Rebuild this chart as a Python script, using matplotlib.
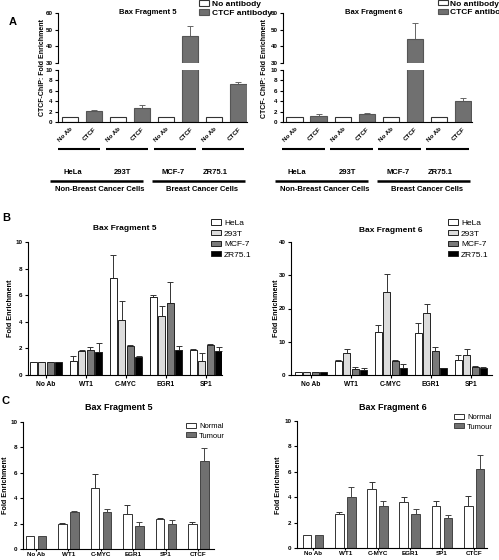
import numpy as np
import matplotlib
matplotlib.use("Agg")
import matplotlib.pyplot as plt
from matplotlib import transforms

plt.rcParams["font.family"] = ["Liberation Sans", "DejaVu Sans"]
plt.rcParams["font.weight"] = "bold"
plt.rcParams["axes.linewidth"] = 0.8

# ---- data ----
cell_lines = ["HeLa", "293T", "MCF-7", "ZR75.1"]
a_ticks = ["No Ab", "CTCF"]
a5_noab = [1.0, 1.0, 1.0, 1.0]
a5_ctcf = [2.1, 2.6, 46.0, 7.3]
a5_ctcf_err = [0.15, 0.6, 6.0, 0.3]
a6_noab = [1.0, 1.0, 1.0, 1.0]
a6_ctcf = [1.2, 1.45, 44.5, 4.1]
a6_ctcf_err = [0.25, 0.25, 9.5, 0.5]
cancer_types = ["Non-Breast Cancer Cells", "Breast Cancer Cells"]

b_groups = ["No Ab", "WT1", "C-MYC", "EGR1", "SP1"]
b5_hela = [1.0, 1.06, 7.27, 5.9, 1.9]
b5_hela_err = [0, 0.38, 1.72, 0.15, 0.05]
b5_293t = [1.0, 1.82, 4.13, 4.43, 1.04]
b5_293t_err = [0, 0.04, 1.44, 0.77, 0.58]
b5_mcf7 = [1.0, 1.9, 2.15, 5.44, 2.28]
b5_mcf7_err = [0, 0.2, 0.1, 1.56, 0.05]
b5_zr = [1.0, 1.7, 1.32, 1.87, 1.82]
b5_zr_err = [0, 0.7, 0.1, 0.33, 0.28]

b6_hela = [1.0, 4.25, 13.06, 12.56, 4.45]
b6_hela_err = [0, 0.3, 1.84, 3.14, 1.55]
b6_293t = [1.0, 6.7, 24.9, 18.7, 6.1]
b6_293t_err = [0, 1.1, 5.4, 2.8, 1.7]
b6_mcf7 = [1.0, 1.9, 4.25, 7.1, 2.4]
b6_mcf7_err = [0, 0.6, 0.2, 1.3, 0.2]
b6_zr = [1.0, 1.5, 2.2, 2.0, 2.2]
b6_zr_err = [0, 0.5, 1.0, 0.2, 0.1]

c_groups = ["No Ab", "WT1", "C-MYC", "EGR1", "SP1", "CTCF"]
c_series = ["Normal", "Tumour"]
c5_normal = [1.0, 2.0, 4.83, 2.79, 2.35, 1.93]
c5_normal_err = [0, 0.06, 1.1, 0.68, 0.1, 0.21]
c5_tumour = [1.0, 2.92, 2.92, 1.78, 1.96, 6.92]
c5_tumour_err = [0, 0.06, 0.21, 0.31, 0.29, 1.04]
c6_normal = [1.0, 2.71, 4.66, 3.65, 3.31, 3.31]
c6_normal_err = [0, 0.15, 0.55, 0.39, 0.41, 0.8]
c6_tumour = [1.0, 4.04, 3.33, 2.66, 2.4, 6.2]
c6_tumour_err = [0, 0.78, 0.37, 0.44, 0.23, 1.1]

W, H = 499, 560
fig = plt.figure(figsize=(W / 100, H / 100), dpi=100)


def px_axes(x0, y0, x1, y1):
    return fig.add_axes([x0 / W, 1 - y1 / H, (x1 - x0) / W, (y1 - y0) / H])


def style(ax):
    ax.spines["top"].set_visible(False)
    ax.spines["right"].set_visible(False)
    ax.tick_params(direction="out", length=2.5, width=0.8, labelsize=4.5, pad=1.5)


def up_err(ax, x, y, err, color="k"):
    x, y, err = np.asarray(x), np.asarray(y), np.asarray(err)
    m = err > 0
    ax.errorbar(x[m], y[m], yerr=[np.zeros(m.sum()), err[m]], fmt="none",
                ecolor=color, elinewidth=0.7, capsize=2, capthick=0.7, zorder=1)


def fpx(x, y):
    return x / W, 1 - y / H


# ---- panel A ----
def panel_a(x0, x1, noab, ctcf, err, title, tpos, ylab, ylab_x, xlim):
    up = px_axes(x0, 13, x1, 63)
    lo = px_axes(x0, 70, x1, 122)
    xs = np.arange(8)
    for ax in (up, lo):
        style(ax)
        b1 = ax.bar(xs[0::2], noab, 0.68, color="white", edgecolor="#333", lw=0.8, zorder=2)
        b2 = ax.bar(xs[1::2], ctcf, 0.68, color="#707070", edgecolor="#555", lw=0.8, zorder=2)
        up_err(ax, xs[1::2], ctcf, err, color="#666")
        ax.set_xlim(*xlim)
    up.set_ylim(30, 60)
    up.set_yticks([30, 40, 50, 60])
    up.spines["bottom"].set_visible(False)
    up.set_xticks([])
    lo.set_ylim(0, 10)
    lo.set_yticks([0, 2, 4, 6, 8, 10])
    lo.set_xticks(xs)
    lo.tick_params(axis="x", length=0, pad=3)
    lo.set_xticklabels(a_ticks * 4, rotation=45, ha="right", va="top",
                       rotation_mode="anchor", fontsize=4.5)
    fig.text(*fpx(*tpos), title, ha="center", va="center", fontsize=5.5)
    fig.text(*fpx(ylab_x, 68), ylab, rotation=90, ha="center", va="center", fontsize=5)
    tr = transforms.blended_transform_factory(lo.transData, fig.transFigure)
    for i in range(4):
        lo.plot([2 * i - 0.52, 2 * i + 1.25], [1 - 149 / H] * 2, color="k", lw=1.5,
                transform=tr, clip_on=False, solid_capstyle="butt")
    for name, cx in zip(cell_lines, [0.1, 2.2, 4.3, 6.05]):
        lo.text(cx, 1 - 173 / H, name, transform=tr, ha="center", va="center", fontsize=5.5)
    for (a, b) in [(-0.83, 3.04), (3.42, 7.27)]:
        lo.plot([a, b], [1 - 181 / H] * 2, color="k", lw=1.8, transform=tr,
                clip_on=False, solid_capstyle="butt")
    for name, cx in zip(cancer_types, [1.25, 5.5]):
        lo.text(cx, 1 - 189.5 / H, name, transform=tr, ha="center", va="center", fontsize=5.5)
    return b1, b2


h = panel_a(58, 247, a5_noab, a5_ctcf, a5_ctcf_err, "Bax Fragment 5", (148, 13),
            "CTCF-ChIP: Fold Enrichment", 42, (-0.5, 7.36))
fig.legend(h, ["No antibody", "CTCF antibody"], loc="upper left", bbox_to_anchor=fpx(199, 0.5),
           frameon=False, fontsize=6, handlelength=1.2, handleheight=0.6, handletextpad=0.3,
           labelspacing=0.15, borderpad=0, borderaxespad=0)
h = panel_a(283, 472, a6_noab, a6_ctcf, a6_ctcf_err, "Bax Fragment 6", (374, 12),
            "CTCF- ChIP: Fold Enrichment", 265, (-0.48, 7.37))
fig.legend(h, ["No antibody", "CTCF antibody"], loc="upper left", bbox_to_anchor=fpx(438, 0),
           frameon=False, fontsize=6, handlelength=1.2, handleheight=0.6, handletextpad=0.3,
           labelspacing=0.15, borderpad=0, borderaxespad=0)


# ---- panel B ----
b_colors = ["white", "#dcdcdc", "#7a7a7a", "black"]


def panel_b(rect, series, errs, ymax, yticks, xlim, title, tpos, ylab_x, leg_x):
    ax = px_axes(*rect)
    style(ax)
    xs = np.arange(len(b_groups))
    handles = []
    for i, (vals, err, col) in enumerate(zip(series, errs, b_colors)):
        off = (i - 1.5) * 0.21
        bh = ax.bar(xs + off, vals, 0.175, color=col, edgecolor="#222", lw=0.7, zorder=2)
        up_err(ax, xs + off, vals, err, color="#333")
        handles.append(bh)
    ax.set_ylim(0, ymax)
    ax.set_yticks(yticks)
    ax.set_xlim(*xlim)
    ax.set_xticks(xs)
    ax.set_xticklabels(b_groups, fontsize=4.8)
    ax.tick_params(axis="x", length=2, pad=2)
    fig.text(*fpx(*tpos), title, ha="center", va="center", fontsize=6)
    fig.text(*fpx(ylab_x, 308), "Fold Enrichment", rotation=90, ha="center", va="center", fontsize=5.2)
    fig.legend(handles, cell_lines, loc="upper left", bbox_to_anchor=fpx(leg_x, 219.5),
               frameon=False, prop={"weight": "normal", "size": 6}, handlelength=1.2,
               handleheight=0.55, handletextpad=0.35, labelspacing=0.38, borderpad=0,
               borderaxespad=0)


panel_b((28, 242, 222, 375), [b5_hela, b5_293t, b5_mcf7, b5_zr],
        [b5_hela_err, b5_293t_err, b5_mcf7_err, b5_zr_err], 10, [0, 2, 4, 6, 8, 10],
        (-0.45, 4.4), "Bax Fragment 5", (125, 228), 11, 211)
panel_b((291, 242, 492, 375), [b6_hela, b6_293t, b6_mcf7, b6_zr],
        [b6_hela_err, b6_293t_err, b6_mcf7_err, b6_zr_err], 40, [0, 10, 20, 30, 40],
        (-0.5, 4.53), "Bax Fragment 6", (391, 230), 276, 448)


# ---- panel C ----
def panel_c(rect, normal, nerr, tumour, terr, xlim, title, tpos, ylab_x, leg_x, leg_y):
    ax = px_axes(*rect)
    style(ax)
    xs = np.arange(len(c_groups))
    h1 = ax.bar(xs - 0.185, normal, 0.27, color="white", edgecolor="#333", lw=0.7, zorder=2)
    h2 = ax.bar(xs + 0.185, tumour, 0.27, color="#707070", edgecolor="#444", lw=0.7, zorder=2)
    up_err(ax, xs - 0.185, normal, nerr, color="#333")
    up_err(ax, xs + 0.185, tumour, terr, color="#444")
    ax.set_ylim(0, 10)
    ax.set_yticks([0, 2, 4, 6, 8, 10])
    ax.set_xlim(*xlim)
    ax.set_xticks(xs)
    ax.set_xticklabels(c_groups, fontsize=4.5)
    ax.tick_params(axis="x", length=1.5, pad=1)
    fig.text(*fpx(*tpos), title, ha="center", va="center", fontsize=6.5)
    fig.text(*fpx(ylab_x, 485), "Fold Enrichment", rotation=90, ha="center", va="center", fontsize=5.2)
    fig.legend([h1, h2], c_series, loc="upper left", bbox_to_anchor=fpx(leg_x, leg_y),
               frameon=False, prop={"weight": "normal", "size": 5.5}, handlelength=1.3,
               handleheight=0.6, handletextpad=0.4, labelspacing=0.3, borderpad=0,
               borderaxespad=0)


panel_c((23, 422, 214, 549), c5_normal, c5_normal_err, c5_tumour, c5_tumour_err,
        (-0.4, 5.48), "Bax Fragment 5", (119, 408), 6, 186, 423)
panel_c((297, 421, 487, 548), c6_normal, c6_normal_err, c6_tumour, c6_tumour_err,
        (-0.5, 5.4), "Bax Fragment 6", (393, 407), 279, 454, 414)

# panel letters
fig.text(*fpx(13, 22), "A", ha="center", va="center", fontsize=8)
fig.text(*fpx(6, 218), "B", ha="center", va="center", fontsize=8)
fig.text(*fpx(5, 401), "C", ha="center", va="center", fontsize=8)

fig.savefig("out.png", dpi=100)
